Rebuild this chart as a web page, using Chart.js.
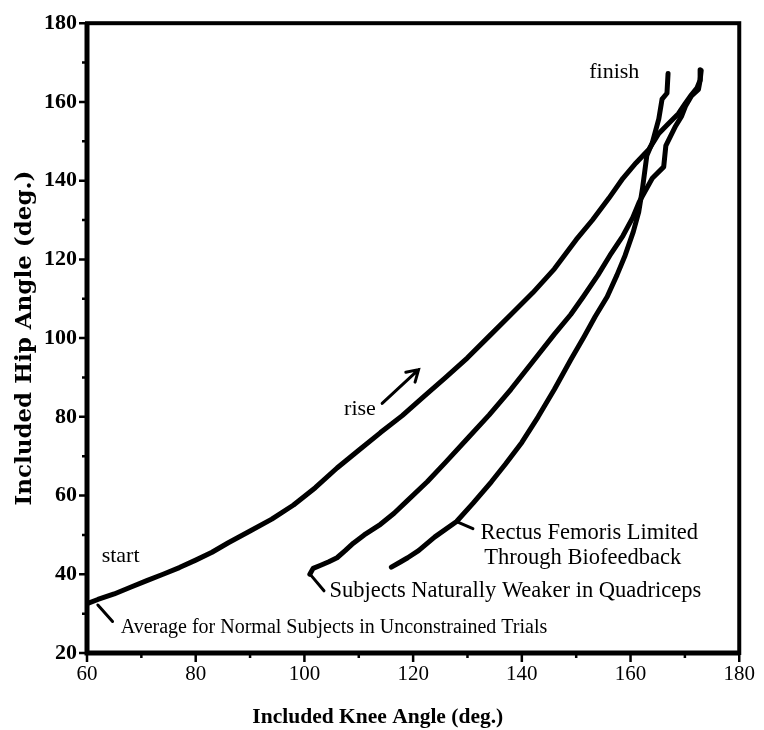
<!DOCTYPE html>
<html lang="en">
<head>
    <meta charset="UTF-8">
    <title>Included Hip vs Knee Angle</title>
    <script src="https://cdn.jsdelivr.net/npm/chart.js"></script>
    <style>
        body {
            margin: 0;
            background: #fff;
        }
        canvas {
            display: block;
        }
    </style>
</head>
<body>
    <canvas id="chart" width="764" height="730"></canvas>

    <script>
        // values (knee angle, hip angle in degrees)
        const normalKnee = [60, 62, 65, 68, 71, 74, 77, 80, 83, 86, 90, 94, 98, 102, 106, 110, 114, 118, 122, 126, 130, 134, 138, 142, 146, 150, 153, 156, 158.6, 161, 163.4, 165.2, 167, 168.8, 170.1, 171.2, 172.2, 172.8, 173];
        const normalHip  = [32.5, 33.6, 35, 36.7, 38.4, 40, 41.7, 43.6, 45.6, 48, 51, 54, 57.6, 62, 67, 71.5, 76, 80.3, 85.2, 90, 95, 100.5, 106, 111.5, 117.6, 125, 130, 135.5, 140.6, 144.5, 148, 152, 154.5, 157, 159.7, 161.8, 163.5, 165.5, 168];

        const weakerKnee = [101, 101.6, 103, 104.5, 106, 107.5, 109, 111, 114, 116.5, 118.7, 122.6, 126, 130, 134, 138, 142, 146, 149, 151.3, 154, 156.2, 158.6, 160.4, 161.6, 164, 166.1, 166.5, 168.3, 169.4, 170.1, 171.2, 172.5, 172.8, 172.8];
        const weakerHip  = [40, 41.5, 42.3, 43.2, 44.2, 46, 47.9, 50, 52.7, 55.5, 58.4, 63.5, 68.5, 74.5, 80.5, 87, 94, 101, 106, 110.5, 116, 121, 126, 130.6, 134.6, 140.6, 143.5, 148.9, 153.9, 156.4, 158.9, 161.5, 163.2, 165.5, 168.2];

        const rectusKnee = [116, 117.5, 119, 121, 124, 128, 131, 134.4, 137, 140, 143, 146, 149, 151.5, 153.5, 155.7, 157.5, 159, 160.5, 161.5, 162.2, 163, 164, 165.2, 165.8, 166.7, 166.9];
        const rectusHip  = [41.8, 43, 44.2, 46, 49.5, 53.4, 58, 63.5, 68, 73.5, 80, 87, 94.5, 100.5, 105.5, 110.5, 116, 121, 127, 132, 138, 146.4, 149.6, 155.7, 160.7, 162.2, 167.2];

        const xTicks = [60, 80, 100, 120, 140, 160, 180];
        const yTicks = [20, 40, 60, 80, 100, 120, 140, 160, 180];

        // text notes placed in data units
        const notes = [
            { text: 'start', x: 62.7, y: 44.6, size: 22 },
            { text: 'rise', x: 107.3, y: 82, size: 22 },
            { text: 'finish', x: 152.4, y: 167.5, size: 22 },
            { text: 'Average for Normal Subjects in Unconstrained Trials', x: 66.2, y: 26.5, size: 20 },
            { text: 'Subjects Naturally Weaker in Quadriceps', x: 104.6, y: 35.8, size: 22.5 },
            { text: 'Rectus Femoris Limited', x: 132.4, y: 50.4, size: 22.5 },
            { text: 'Through Biofeedback', x: 133.1, y: 44.2, size: 22.5 }
        ];
        // leader lines and arrow, data units
        const leaders = [
            [62, 32.2, 64.7, 28],
            [101.3, 39.6, 103.6, 35.8],
            [128, 53.4, 131, 51.6]
        ];
        const arrow = [114.3, 83.4, 121, 92];

        function toPoints(xs, ys) {
            return xs.map((x, i) => ({ x: x, y: ys[i] }));
        }

        const serif = "'Liberation Serif', 'Times New Roman', serif";

        const framePlugin = {
            id: 'frame',
            afterDatasetsDraw(chart) {
                const ctx = chart.ctx;
                const a = chart.chartArea;
                const xs = chart.scales.x;
                const ys = chart.scales.y;
                ctx.save();
                ctx.strokeStyle = '#000';
                ctx.fillStyle = '#000';

                // box round the plot
                ctx.lineWidth = 4;
                ctx.strokeRect(a.left, a.top, a.right - a.left, a.bottom - a.top);
                ctx.lineWidth = 5;
                ctx.beginPath();
                ctx.moveTo(a.left, a.top);
                ctx.lineTo(a.left, a.bottom);
                ctx.lineTo(a.right, a.bottom);
                ctx.stroke();

                // tick marks, long at labels and short in between
                ctx.lineWidth = 2.5;
                ctx.beginPath();
                for (let v = 20; v <= 180; v += 10) {
                    const py = ys.getPixelForValue(v);
                    const len = v % 20 === 0 ? 8 : 5;
                    ctx.moveTo(a.left - len, py);
                    ctx.lineTo(a.left, py);
                }
                for (let v = 60; v <= 180; v += 10) {
                    const px = xs.getPixelForValue(v);
                    const len = v % 20 === 0 ? 9 : 5;
                    ctx.moveTo(px, a.bottom);
                    ctx.lineTo(px, a.bottom + len);
                }
                ctx.stroke();

                // x axis title sits a little left of centre in the original
                ctx.font = 'bold 21.5px ' + serif;
                ctx.textAlign = 'center';
                ctx.textBaseline = 'middle';
                ctx.fillText('Included Knee Angle (deg.)', xs.getPixelForValue(113.5), a.bottom + 64);

                // notes
                ctx.textAlign = 'left';
                notes.forEach(n => {
                    ctx.font = n.size + 'px ' + serif;
                    ctx.fillText(n.text, xs.getPixelForValue(n.x), ys.getPixelForValue(n.y));
                });

                ctx.lineWidth = 3;
                ctx.lineCap = 'round';
                ctx.beginPath();
                leaders.forEach(l => {
                    ctx.moveTo(xs.getPixelForValue(l[0]), ys.getPixelForValue(l[1]));
                    ctx.lineTo(xs.getPixelForValue(l[2]), ys.getPixelForValue(l[3]));
                });
                ctx.stroke();

                // arrow next to "rise"
                const ax0 = xs.getPixelForValue(arrow[0]);
                const ay0 = ys.getPixelForValue(arrow[1]);
                const ax1 = xs.getPixelForValue(arrow[2]);
                const ay1 = ys.getPixelForValue(arrow[3]);
                const ang = Math.atan2(ay1 - ay0, ax1 - ax0);
                ctx.beginPath();
                ctx.moveTo(ax0, ay0);
                ctx.lineTo(ax1, ay1);
                ctx.moveTo(ax1 - 13 * Math.cos(ang - 0.55), ay1 - 13 * Math.sin(ang - 0.55));
                ctx.lineTo(ax1, ay1);
                ctx.lineTo(ax1 - 13 * Math.cos(ang + 0.55), ay1 - 13 * Math.sin(ang + 0.55));
                ctx.stroke();
                ctx.restore();
            }
        };

        const lineStyle = {
            showLine: true,
            borderColor: '#000',
            borderWidth: 5,
            pointRadius: 0,
            fill: false,
            tension: 0,
            borderJoinStyle: 'round',
            borderCapStyle: 'round'
        };

        const ctx = document.getElementById('chart').getContext('2d');
        new Chart(ctx, {
            type: 'scatter',
            data: {
                datasets: [
                    Object.assign({ label: 'Average for Normal Subjects in Unconstrained Trials', data: toPoints(normalKnee, normalHip) }, lineStyle),
                    Object.assign({ label: 'Subjects Naturally Weaker in Quadriceps', data: toPoints(weakerKnee, weakerHip) }, lineStyle),
                    Object.assign({ label: 'Rectus Femoris Limited Through Biofeedback', data: toPoints(rectusKnee, rectusHip) }, lineStyle)
                ]
            },
            options: {
                responsive: false,
                animation: false,
                layout: { padding: { left: 0, right: 11, top: 16, bottom: 0 } },
                plugins: {
                    legend: { display: false },
                    tooltip: { enabled: false }
                },
                scales: {
                    x: {
                        type: 'linear',
                        min: 60,
                        max: 180,
                        afterFit: s => { s.height = 77; },
                        afterBuildTicks: s => { s.ticks = xTicks.map(v => ({ value: v })); },
                        grid: { display: false, drawTicks: false },
                        border: { display: false },
                        ticks: {
                            padding: 9,
                            color: '#000',
                            font: { family: serif, size: 21 },
                            maxRotation: 0
                        },
                        title: { display: false }
                    },
                    y: {
                        type: 'linear',
                        min: 20,
                        max: 180,
                        afterFit: s => { s.width = 87; },
                        afterBuildTicks: s => { s.ticks = yTicks.map(v => ({ value: v })); },
                        grid: { display: false, drawTicks: false },
                        border: { display: false },
                        ticks: {
                            padding: 10,
                            color: '#000',
                            font: { family: serif, size: 22, weight: 'bold' }
                        },
                        title: {
                            display: true,
                            text: 'Included Hip Angle (deg.)',
                            color: '#000',
                            font: { family: "'DejaVu Serif', serif", size: 23, weight: 'bold' },
                            padding: { top: 11, bottom: 0 }
                        }
                    }
                }
            },
            plugins: [framePlugin]
        });
    </script>
</body>
</html>
